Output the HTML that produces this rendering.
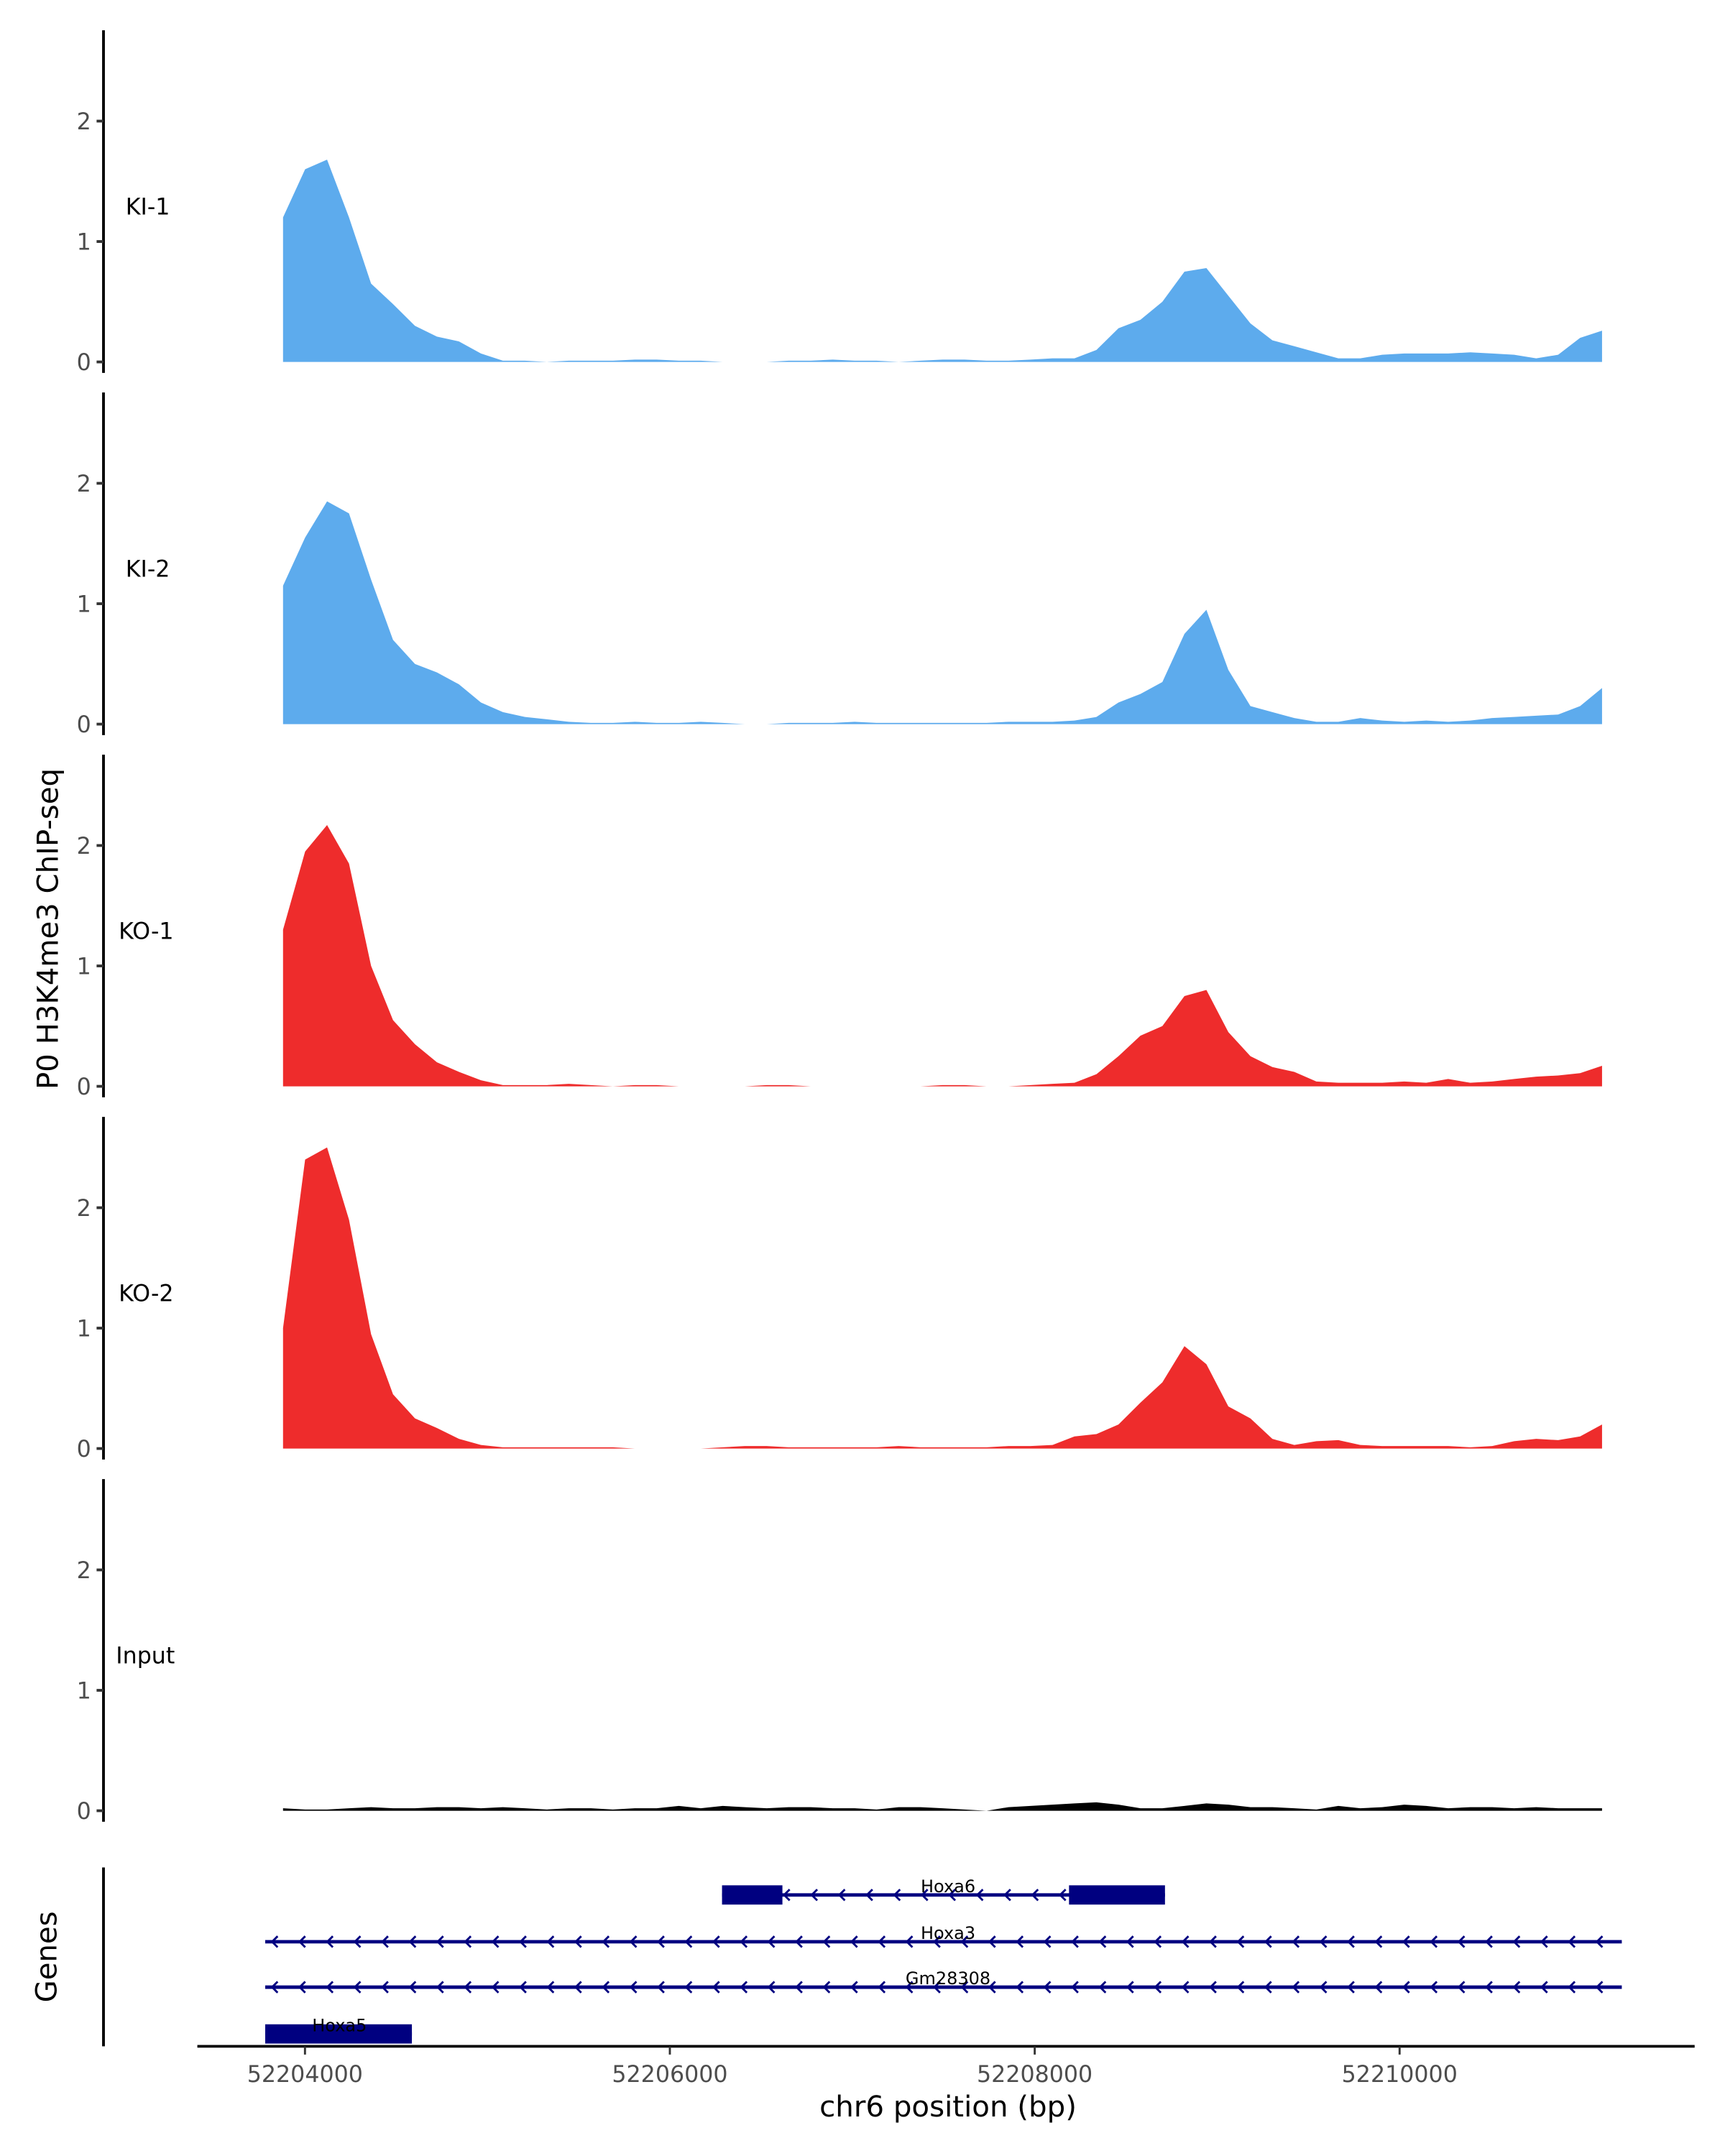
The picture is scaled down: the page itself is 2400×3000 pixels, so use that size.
<!DOCTYPE html>
<html><head><meta charset="utf-8"><style>
html,body{margin:0;padding:0;background:#fff}
svg{display:block;font-family:"DejaVu Sans","Liberation Sans",sans-serif}
</style></head><body>
<svg id="chart" xmlns="http://www.w3.org/2000/svg" width="2400" height="3000" viewBox="0 0 1250 1566.7" preserveAspectRatio="none">
<rect width="1250" height="1566.7" fill="#fff"/>
<text transform="translate(42,675) rotate(-90)" text-anchor="middle" font-size="21" fill="#000">P0 H3K4me3 ChIP-seq</text>
<text transform="translate(41,1422) rotate(-90)" text-anchor="middle" font-size="21" fill="#000">Genes</text>
<text x="687" y="1538" text-anchor="middle" font-size="21" fill="#000">chr6 position (bp)</text>
<g id="tracks"></g>
<g id="genes"></g>
<g id="xaxis"></g>
</svg>
<script>
const startBp = 52203880;
const stepBp = 120.5;
const trackNames = ["KI-1","KI-2","KO-1","KO-2","Input"];
const trackColors = ["#5DABED","#5DABED","#EE2C2C","#EE2C2C","#000000"];
const ki1 = [1.2,1.6,1.68,1.2,0.65,0.48,0.3,0.21,0.17,0.07,0.01,0.01,0.0,0.01,0.01,0.01,0.02,0.02,0.01,0.01,0.0,0.0,0.0,0.01,0.01,0.02,0.01,0.01,0.0,0.01,0.02,0.02,0.01,0.01,0.02,0.03,0.03,0.1,0.28,0.35,0.5,0.75,0.78,0.55,0.32,0.18,0.13,0.08,0.03,0.03,0.06,0.07,0.07,0.07,0.08,0.07,0.06,0.03,0.06,0.2,0.26];
const ki2 = [1.15,1.55,1.85,1.75,1.2,0.7,0.5,0.43,0.33,0.18,0.1,0.06,0.04,0.02,0.01,0.01,0.02,0.01,0.01,0.02,0.01,0.0,0.0,0.01,0.01,0.01,0.02,0.01,0.01,0.01,0.01,0.01,0.01,0.02,0.02,0.02,0.03,0.06,0.18,0.25,0.35,0.75,0.95,0.45,0.15,0.1,0.05,0.02,0.02,0.05,0.03,0.02,0.03,0.02,0.03,0.05,0.06,0.07,0.08,0.15,0.3];
const ko1 = [1.3,1.95,2.17,1.85,1.0,0.55,0.35,0.2,0.12,0.05,0.01,0.01,0.01,0.02,0.01,0.0,0.01,0.01,0.0,0.0,0.0,0.0,0.01,0.01,0.0,0.0,0.0,0.0,0.0,0.0,0.01,0.01,0.0,0.0,0.01,0.02,0.03,0.1,0.25,0.42,0.5,0.75,0.8,0.45,0.25,0.16,0.12,0.04,0.03,0.03,0.03,0.04,0.03,0.06,0.03,0.04,0.06,0.08,0.09,0.11,0.17];
const ko2 = [1.0,2.4,2.5,1.9,0.95,0.45,0.25,0.17,0.08,0.03,0.01,0.01,0.01,0.01,0.01,0.01,0.0,0.0,0.0,0.0,0.01,0.02,0.02,0.01,0.01,0.01,0.01,0.01,0.02,0.01,0.01,0.01,0.01,0.02,0.02,0.03,0.1,0.12,0.2,0.38,0.55,0.85,0.7,0.35,0.25,0.08,0.03,0.06,0.07,0.03,0.02,0.02,0.02,0.02,0.01,0.02,0.06,0.08,0.07,0.1,0.2];
const inputVals = [0.02,0.01,0.01,0.02,0.03,0.02,0.02,0.03,0.03,0.02,0.03,0.02,0.01,0.02,0.02,0.01,0.02,0.02,0.04,0.02,0.04,0.03,0.02,0.03,0.03,0.02,0.02,0.01,0.03,0.03,0.02,0.01,0.0,0.03,0.04,0.05,0.06,0.07,0.05,0.02,0.02,0.04,0.06,0.05,0.03,0.03,0.02,0.01,0.04,0.02,0.03,0.05,0.04,0.02,0.03,0.03,0.02,0.03,0.02,0.02,0.02];
const trackValues = [ki1,ki2,ko1,ko2,inputVals];
const yTicks = [0,1,2];
const xTicks = [52204000,52206000,52208000,52210000];
const geneNames = ["Hoxa6","Hoxa3","Gm28308","Hoxa5"];
const geneStarts = [52206286,52203782,52203782,52203782];
const geneEnds = [52208714,52211218,52211218,52204586];
const geneExons = [[[52206286,52206617],[52208188,52208714]],[],[],[[52203782,52204586]]];

const NS="http://www.w3.org/2000/svg";
function el(tag,attrs,parent){const e=document.createElementNS(NS,tag);for(const k in attrs)e.setAttribute(k,attrs[k]);parent.appendChild(e);return e;}
const xScale = bp => 221 + (bp-52204000)*0.1322;
const panelZero = i => 263 + i*263.2;
const yScale = (i,v) => panelZero(i) - v*87.5;

const tg=document.getElementById('tracks');
trackNames.forEach((name,i)=>{
  const g=el('g',{},tg);
  
  
  const ax=el('line',{x1:75,x2:75,y1:panelZero(i)-241,y2:panelZero(i)+8,stroke:'#000','stroke-width':2},g);
  
  
  yTicks.forEach(t=>{
    const tk=el('line',{x1:70,x2:75,y1:yScale(i,t),y2:yScale(i,t),stroke:'#333','stroke-width':2},g);
    
    
    const tl=el('text',{x:66,y:yScale(i,t)+6,'text-anchor':'end','font-size':16.5,fill:'#4d4d4d'},g);
    tl.textContent=t;
    
    
  });
  const lab=el('text',{x:name.length>4?84:(name[1]==='I'?91:86),y:panelZero(i)-107,'font-size':16.5,fill:'#000'},g);
  lab.textContent=name;
  
  
  const vals=trackValues[i];
  let d='M'+xScale(startBp).toFixed(1)+','+panelZero(i);
  vals.forEach((v,j)=>{d+=' L'+xScale(startBp+j*stepBp).toFixed(1)+','+yScale(i,v).toFixed(1);});
  d+=' L'+xScale(startBp+(vals.length-1)*stepBp).toFixed(1)+','+panelZero(i)+' Z';
  const p=el('path',{d:d,fill:trackColors[i]},g);
  
  
});

const gg=document.getElementById('genes');
const gax=el('line',{x1:75,x2:75,y1:1357,y2:1487,stroke:'#000','stroke-width':2},gg);


const rowY=[1377,1411,1444,1478];
geneNames.forEach((name,i)=>{
  const g=el('g',{},gg);
  
  
  const x1=xScale(geneStarts[i]),x2=xScale(geneEnds[i]),y=rowY[i];
  const ln=el('line',{x1:x1,x2:x2,y1:y,y2:y,stroke:'#000080','stroke-width':2.5},g);
  
  
  for(let x=x1+6;x<x2-6;x+=20){
    const a=el('path',{d:`M${x+3},${y-4} L${x-1},${y} L${x+3},${y+4}`,fill:'none',stroke:'#000080','stroke-width':1.5},g);
    
    
  }
  geneExons[i].forEach(ex=>{
    const r=el('rect',{x:xScale(ex[0]),y:y-7,width:xScale(ex[1])-xScale(ex[0]),height:14,fill:'#000080'},g);
    
    
  });
  const cx=i===3?246:687;
  const t=el('text',{x:cx,y:y-2,'text-anchor':'middle','font-size':12.5,fill:'#000'},g);
  t.textContent=name;
  
  
});

const xg=document.getElementById('xaxis');
const xl=el('line',{x1:143,x2:1228,y1:1487,y2:1487,stroke:'#000','stroke-width':2},xg);


xTicks.forEach(t=>{
  const tk=el('line',{x1:xScale(t),x2:xScale(t),y1:1487,y2:1493,stroke:'#333','stroke-width':1.5},xg);
  
  
  const tl=el('text',{x:xScale(t),y:1513,'text-anchor':'middle','font-size':16.5,fill:'#4d4d4d'},xg);
  tl.textContent=t;
  
  
});
</script>
</body></html>
